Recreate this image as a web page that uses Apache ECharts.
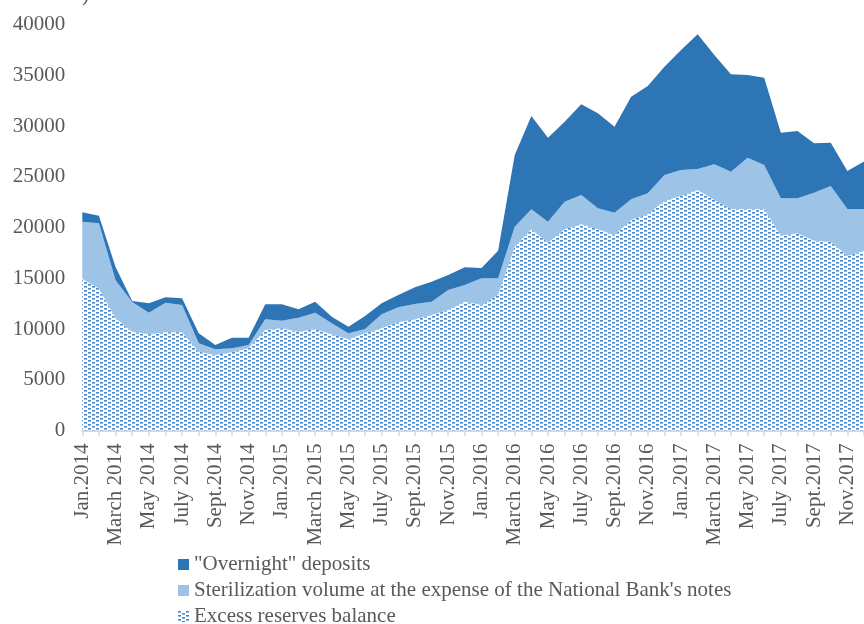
<!DOCTYPE html>
<html>
<head>
<meta charset="utf-8">
<script src="https://cdn.jsdelivr.net/npm/echarts@6/dist/echarts.min.js"></script>
<style>
  html, body { margin: 0; padding: 0; background: #ffffff; }
  #chart { width: 864px; height: 624px; }
</style>
</head>
<body>
<div id="chart"></div>
<script>
// Monthly periods, Jan 2014 – Dec 2017
const months = [
  'Jan.2014','Feb.2014','March 2014','April 2014','May 2014','June 2014','July 2014','Aug.2014','Sept.2014','Oct.2014','Nov.2014','Dec.2014',
  'Jan.2015','Feb.2015','March 2015','April 2015','May 2015','June 2015','July 2015','Aug.2015','Sept.2015','Oct.2015','Nov.2015','Dec.2015',
  'Jan.2016','Feb.2016','March 2016','April 2016','May 2016','June 2016','July 2016','Aug.2016','Sept.2016','Oct.2016','Nov.2016','Dec.2016',
  'Jan.2017','Feb.2017','March 2017','April 2017','May 2017','June 2017','July 2017','Aug.2017','Sept.2017','Oct.2017','Nov.2017','Dec.2017'
];

// Excess reserves balance
const excessReserves = [
  14930, 14000, 11050, 9730, 9480, 9670, 9670, 7760, 7440, 7700, 8100, 9900,
  10070, 9730, 9970, 9480, 8980, 9580, 10070, 10660, 10960, 11380, 11870, 12690,
  12360, 13350, 18100, 19820, 18500, 19820, 20310, 19820, 19260, 20740, 21300, 22610,
  23100, 23690, 22710, 21820, 21820, 21820, 19190, 19430, 18700, 18600, 17190, 17700
];

// Sterilization volume at the expense of the National Bank's notes
const sterilization = [
  5640, 6410, 3750, 2930, 2120, 2920, 2690, 830, 560, 400, 320, 1060,
  750, 1380, 1630, 1080, 600, 420, 1380, 1480, 1500, 1310, 1970, 1640,
  2630, 1640, 1980, 1970, 2070, 2720, 2890, 2070, 2200, 2040, 2070, 2560,
  2570, 2070, 3520, 3680, 5060, 4340, 3690, 3450, 4730, 5490, 4630, 4120
];

// "Overnight" deposits
const overnight = [
  930, 750, 1300, 100, 930, 530, 660, 990, 420, 1040, 720, 1470,
  1610, 830, 1090, 650, 650, 1280, 1080, 1210, 1650, 1970, 1480, 1750,
  1010, 2720, 7060, 9200, 8280, 7880, 8940, 9360, 8470, 10110, 10570, 10670,
  11820, 13270, 10770, 9590, 8140, 8600, 6460, 6630, 4870, 4270, 3750, 4680
];

const seriesNames = [
  '"Overnight" deposits',
  "Sterilization volume at the expense of the National Bank's notes",
  'Excess reserves balance'
];

const DARK_BLUE = '#2E75B6';
const LIGHT_BLUE = '#9DC3E6';
const TEXT_GREY = '#595959';
const FONT = '"Liberation Serif", "Times New Roman", serif';

// Small dotted tile used as the fill of the excess reserves area
function makeDotTile() {
  const c = document.createElement('canvas');
  c.width = 8; c.height = 4;
  const g = c.getContext('2d');
  g.fillStyle = '#ffffff';
  g.fillRect(0, 0, 8, 4);
  g.fillStyle = '#8DB8E4';
  g.fillRect(0, 0, 3, 2);
  g.fillRect(4, 2, 3, 2);
  g.fillStyle = '#4A86C8';
  g.fillRect(0, 0, 3, 1);
  g.fillRect(4, 2, 3, 1);
  return c;
}
const dotFill = { image: makeDotTile(), repeat: 'repeat' };

const chart = echarts.init(document.getElementById('chart'), null, { renderer: 'canvas' });

function areaSeries(name, data, fill) {
  return {
    name: name,
    type: 'line',
    stack: 'total',
    data: data,
    symbol: 'none',
    showSymbol: false,
    smooth: false,
    lineStyle: { width: 0, opacity: 0 },
    itemStyle: { color: fill },
    areaStyle: { color: fill, opacity: 1 },
    emphasis: { disabled: true },
    animation: false
  };
}

chart.setOption({
  animation: false,
  backgroundColor: '#ffffff',
  graphic: [{
    type: 'text',
    left: 82,
    top: -15,
    style: { text: ')', fill: TEXT_GREY, font: '21px ' + FONT }
  }],
  grid: { left: 82.3, right: -7.6, top: 24.5, bottom: 193.5, containLabel: false },
  legend: {
    orient: 'vertical',
    left: 178,
    top: 551.5,
    height: 80,
    padding: 0,
    itemWidth: 11,
    itemHeight: 11,
    itemGap: 0,
    selectedMode: false,
    textStyle: { fontFamily: FONT, fontSize: 21, color: TEXT_GREY, lineHeight: 26 },
    data: [
      { name: seriesNames[0], icon: 'rect', itemStyle: { color: DARK_BLUE } },
      { name: seriesNames[1], icon: 'rect', itemStyle: { color: LIGHT_BLUE } },
      { name: seriesNames[2], icon: 'rect', itemStyle: { color: dotFill } }
    ]
  },
  xAxis: {
    type: 'category',
    data: months,
    boundaryGap: false,
    axisLine: { show: true, lineStyle: { color: '#D9D9D9', width: 2 } },
    axisTick: { show: true, interval: 0, length: 6, lineStyle: { color: '#D9D9D9', width: 1.5 } },
    axisLabel: {
      interval: 1,
      rotate: 90,
      margin: 13,
      fontFamily: FONT,
      fontSize: 21,
      color: TEXT_GREY
    },
    splitLine: { show: false }
  },
  yAxis: {
    type: 'value',
    min: 0,
    max: 40000,
    interval: 5000,
    axisLine: { show: false },
    axisTick: { show: false },
    splitLine: { show: false },
    axisLabel: {
      margin: 17,
      fontFamily: FONT,
      fontSize: 21,
      color: TEXT_GREY,
      formatter: function (v) { return String(v); }
    }
  },
  series: [
    areaSeries(seriesNames[2], excessReserves, dotFill),
    areaSeries(seriesNames[1], sterilization, LIGHT_BLUE),
    areaSeries(seriesNames[0], overnight, DARK_BLUE)
  ]
});
</script>
</body>
</html>
